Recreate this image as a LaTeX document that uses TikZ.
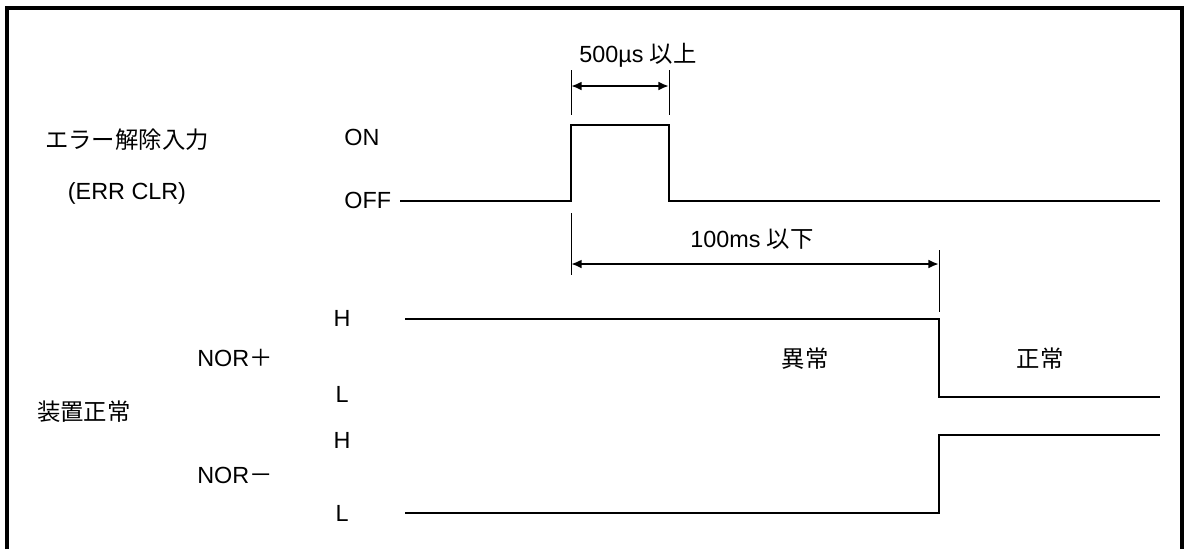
\documentclass[tikz,border=0pt]{standalone}
\usepackage{fontspec}
\setmainfont{Liberation Sans}
\newfontfamily\jpfont{Noto Sans CJK JP}
\usetikzlibrary{arrows.meta, positioning, calc}

\begin{document}
\begin{tikzpicture}[
      x=0.02cm, y=-0.02cm,
      every node/.style={font=\fontsize{13.3}{16}\selectfont, inner sep=0pt},
      lvl/.style={anchor=west},
      wave/.style={line width=1.3pt, line join=miter},
      guide/.style={line width=0.5pt},
      span/.style={line width=1.2pt, {Latex[length=6pt,width=5pt]}-{Latex[length=6pt,width=5pt]}},
      >=Latex
    ]
      \useasboundingbox (0,0) rectangle (1184,549);
      % frame, open at the bottom
      \coordinate (fa) at (7,549);
      \coordinate (fb) at (7,8);
      \coordinate (fc) at (1182,8);
      \coordinate (fd) at (1182,549);
      \draw[line width=2pt] (fa) -- (fb) -- (fc) -- (fd);

      % error clear input
      \node (errin) at (127,140) {\jpfont エラー解除入力};
      \node (errclr) at (127,193) {(ERR CLR)};
      \node[lvl] (on) at (344,137) {ON};
      \node[lvl] (off) at (344,200) {OFF};
      \coordinate (e0) at (400,201);
      \coordinate (e1) at (571,201);
      \coordinate (e2) at (571,125);
      \coordinate (e3) at (669,125);
      \coordinate (e4) at (669,201);
      \coordinate (e5) at (1160,201);
      \draw[wave] (e0) -- (e1) -- (e2) -- (e3) -- (e4) -- (e5);

      % 500us pulse width
      \coordinate (p0) at (571,70);
      \coordinate (p1) at (571,115);
      \coordinate (p2) at (669,70);
      \coordinate (p3) at (669,115);
      \draw[guide] (p0) -- (p1);
      \draw[guide] (p2) -- (p3);
      \coordinate (pa) at (571,86);
      \coordinate (pb) at (669,86);
      \draw[span] (pa) -- (pb);
      \node (t500) at (638,55) {500µs {\jpfont 以上}};

      % 100ms response
      \coordinate (q0) at (571,213);
      \coordinate (q1) at (571,275);
      \coordinate (q2) at (939,250);
      \coordinate (q3) at (939,312);
      \draw[guide] (q0) -- (q1);
      \draw[guide] (q2) -- (q3);
      \coordinate (qa) at (571,264);
      \coordinate (qb) at (939,264);
      \draw[span] (qa) -- (qb);
      \node (t100) at (752,239) {100ms {\jpfont 以下}};

      % device normal outputs
      \node (unit) at (84,412) {\jpfont 装置正常};
      \node[lvl] (norp) at (197,358) {NOR{\jpfont ＋}};
      \node[lvl] (norm) at (197,475) {NOR{\jpfont －}};
      \node (h1) at (342,318) {H};
      \node (l1) at (342,394) {L};
      \node (h2) at (342,440) {H};
      \node (l2) at (342,513) {L};
      \coordinate (n0) at (405,319);
      \coordinate (n1) at (939,319);
      \coordinate (n2) at (939,397);
      \coordinate (n3) at (1160,397);
      \draw[wave] (n0) -- (n1) -- (n2) -- (n3);
      \coordinate (m0) at (405,513);
      \coordinate (m1) at (939,513);
      \coordinate (m2) at (939,435);
      \coordinate (m3) at (1160,435);
      \draw[wave] (m0) -- (m1) -- (m2) -- (m3);
      \node (bad) at (805,359) {\jpfont 異常};
      \node (good) at (1040,359) {\jpfont 正常};
    \end{tikzpicture}
\end{document}
